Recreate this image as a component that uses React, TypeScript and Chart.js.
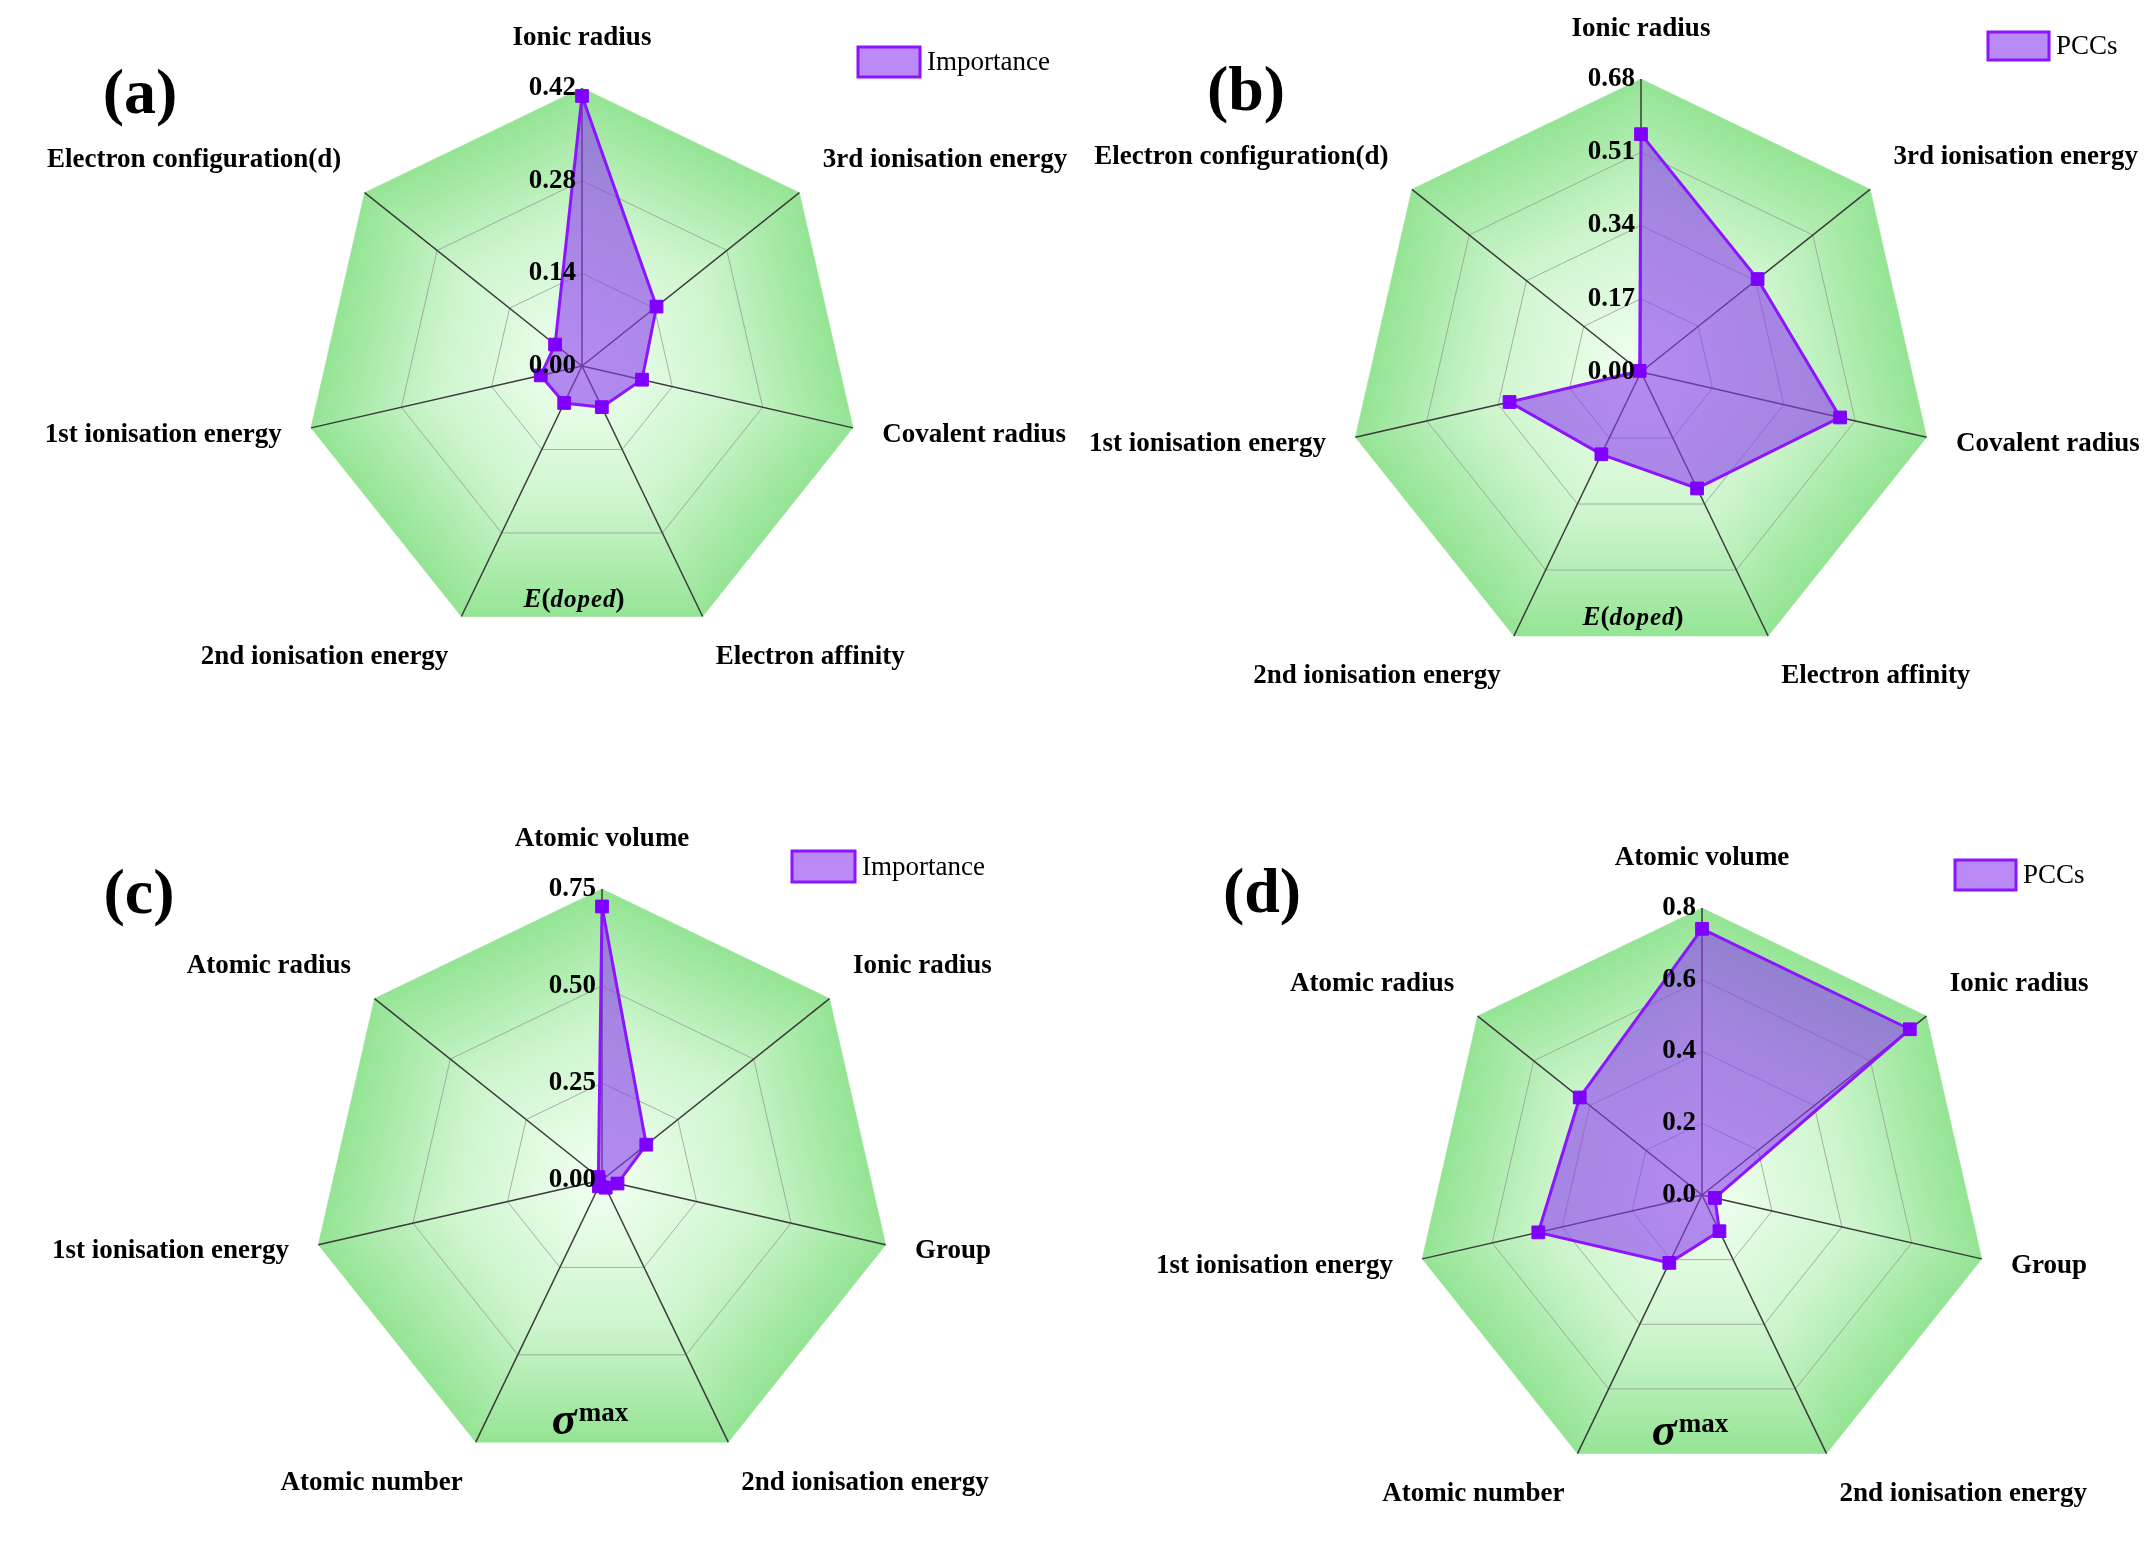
import React, { useEffect, useRef } from 'react';
import { Chart, registerables } from 'chart.js';

Chart.register(...registerables);

// ---------- data ----------
const LABELS_AB = [
  'Ionic radius',
  '3rd ionisation energy',
  'Covalent radius',
  'Electron affinity',
  '2nd ionisation energy',
  '1st ionisation energy',
  'Electron configuration(d)',
];
const LABELS_CD = [
  'Atomic volume',
  'Ionic radius',
  'Group',
  '2nd ionisation energy',
  'Atomic number',
  '1st ionisation energy',
  'Atomic radius',
];

const IMPORTANCE_A = [0.408, 0.144, 0.093, 0.069, 0.062, 0.064, 0.052];
const PCC_B = [0.552, 0.346, 0.474, 0.3, 0.212, 0.313, 0.004];
const IMPORTANCE_C = [0.705, 0.146, 0.041, 0.022, 0.018, 0.008, 0.012];
const PCC_D = [0.742, 0.741, 0.037, 0.112, 0.21, 0.468, 0.436];

const TICKS_A = ['0.00', '0.14', '0.28', '0.42'];
const TICKS_B = ['0.00', '0.17', '0.34', '0.51', '0.68'];
const TICKS_C = ['0.00', '0.25', '0.50', '0.75'];
const TICKS_D = ['0.0', '0.2', '0.4', '0.6', '0.8'];

// ---------- styles ----------
const SERIF = "'Liberation Serif', 'Times New Roman', serif";
const FILL = 'rgba(140, 60, 240, 0.6)';
const BORDER = 'rgb(140, 20, 255)';
const MARKER = 'rgb(128, 0, 255)';
const GREEN_IN = 'rgb(242, 255, 242)';
const GREEN_MID = 'rgb(205, 245, 205)';
const GREEN_OUT = 'rgb(148, 228, 148)';

type PanelCfg = {
  letter: string;
  labels: string[];
  values: number[];
  ticks: string[];
  series: string;
  center: 'E' | 'sigma';
  left: number;
  top: number;
  w: number;
  h: number;
  cx: number;
  cy: number;
  r: number;
  letterPos: [number, number];
  legendBox: [number, number, number, number];
};

const PANELS: PanelCfg[] = [
  {
    letter: '(a)', labels: LABELS_AB, values: IMPORTANCE_A, ticks: TICKS_A, series: 'Importance', center: 'E',
    left: 0, top: 0, w: 1078, h: 770, cx: 582, cy: 366, r: 278,
    letterPos: [140, 96], legendBox: [858, 47, 62, 30],
  },
  {
    letter: '(b)', labels: LABELS_AB, values: PCC_B, ticks: TICKS_B, series: 'PCCs', center: 'E',
    left: 1078, top: 0, w: 1078, h: 770, cx: 563, cy: 372, r: 293,
    letterPos: [168, 93], legendBox: [910, 32, 61, 28],
  },
  {
    letter: '(c)', labels: LABELS_CD, values: IMPORTANCE_C, ticks: TICKS_C, series: 'Importance', center: 'sigma',
    left: 0, top: 770, w: 1078, h: 771, cx: 602, cy: 410, r: 291,
    letterPos: [139, 126], legendBox: [792, 81, 63, 31],
  },
  {
    letter: '(d)', labels: LABELS_CD, values: PCC_D, ticks: TICKS_D, series: 'PCCs', center: 'sigma',
    left: 1078, top: 770, w: 1078, h: 771, cx: 624, cy: 425, r: 287,
    letterPos: [184, 125], legendBox: [877, 90, 61, 30],
  },
];

function makeDecor(cfg: PanelCfg) {
  return {
    id: 'radarDecor' + cfg.letter,
    beforeDraw(chart: any) {
      const scale = chart.scales.r;
      const ctx: CanvasRenderingContext2D = chart.ctx;
      const n = chart.data.labels.length;
      const R = scale.drawingArea;
      const cx = scale.xCenter;
      const cy = scale.yCenter;
      ctx.save();
      ctx.fillStyle = '#ffffff';
      ctx.fillRect(0, 0, chart.width, chart.height);
      for (let i = 0; i < n; i++) {
        const a = scale.getPointPosition(i, R);
        const b = scale.getPointPosition((i + 1) % n, R);
        const m = { x: (a.x + b.x) / 2, y: (a.y + b.y) / 2 };
        const g = ctx.createLinearGradient(cx, cy, m.x, m.y);
        g.addColorStop(0, GREEN_IN);
        g.addColorStop(0.55, GREEN_MID);
        g.addColorStop(1, GREEN_OUT);
        ctx.beginPath();
        ctx.moveTo(cx, cy);
        ctx.lineTo(a.x, a.y);
        ctx.lineTo(b.x, b.y);
        ctx.closePath();
        ctx.fillStyle = g;
        ctx.fill();
        ctx.strokeStyle = g;
        ctx.lineWidth = 0.6;
        ctx.stroke();
      }
      ctx.restore();
    },
    afterDraw(chart: any) {
      const scale = chart.scales.r;
      const ctx: CanvasRenderingContext2D = chart.ctx;
      const labels: string[] = chart.data.labels;
      const n = labels.length;
      const R = scale.drawingArea;
      const cx = scale.xCenter;
      const cy = scale.yCenter;
      ctx.save();
      ctx.fillStyle = '#000';

      // tick labels
      ctx.font = `bold 27px ${SERIF}`;
      ctx.textAlign = 'right';
      ctx.textBaseline = 'middle';
      scale.ticks.forEach((t: any, i: number) => {
        const d = scale.getDistanceFromCenterForValue(t.value);
        ctx.fillText(cfg.ticks[i] ?? String(t.value), cx - 6, cy - d);
      });

      // point labels
      ctx.font = `bold 27px ${SERIF}`;
      labels.forEach((lab, i) => {
        const ang = (360 / n) * i;
        const pad = i === 0 ? 36 : 30;
        const p = scale.getPointPosition(i, R + pad);
        let align: CanvasTextAlign = 'center';
        let base: CanvasTextBaseline = 'bottom';
        if (ang !== 0) {
          align = ang < 180 ? 'left' : 'right';
          const a = ang < 180 ? ang : 360 - ang;
          base = a < 80 ? 'bottom' : a < 130 ? 'middle' : 'top';
        }
        ctx.textAlign = align;
        ctx.textBaseline = base;
        ctx.fillText(lab, p.x, p.y);
      });

      // centre label in bottom sector
      const ly = cy + R * 0.83;
      ctx.textAlign = 'left';
      ctx.textBaseline = 'alphabetic';
      if (cfg.center === 'E') {
        const parts: [string, string][] = [
          ['E', `bold italic 27px ${SERIF}`],
          ['(', `bold 27px ${SERIF}`],
          ['doped', `bold italic 25px ${SERIF}`],
          [')', `bold 27px ${SERIF}`],
        ];
        let total = 0;
        const ws = parts.map(([t, f]) => {
          ctx.font = f;
          const w = ctx.measureText(t).width + (t === 'doped' ? 4 : 0);
          total += w;
          return w;
        });
        let x = cx - 8 - total / 2;
        parts.forEach(([t, f], k) => {
          ctx.font = f;
          if (t === 'doped') {
            (ctx as any).letterSpacing = '1px';
          }
          ctx.fillText(t, x, ly + 10);
          (ctx as any).letterSpacing = '0px';
          x += ws[k];
        });
      } else {
        ctx.font = `bold italic 46px ${SERIF}`;
        const ws = ctx.measureText('σ').width;
        ctx.font = `bold 27px ${SERIF}`;
        const wm = ctx.measureText('max').width;
        const total = ws + 2 + wm;
        const x0 = cx - 12 - total / 2;
        ctx.font = `bold italic 46px ${SERIF}`;
        ctx.fillText('σ', x0, ly + 12);
        ctx.font = `bold 27px ${SERIF}`;
        ctx.fillText('max', x0 + ws + 2, ly - 1);
      }

      // legend
      const [bx, by, bw, bh] = cfg.legendBox;
      ctx.fillStyle = FILL;
      ctx.fillRect(bx, by, bw, bh);
      ctx.strokeStyle = BORDER;
      ctx.lineWidth = 3;
      ctx.strokeRect(bx, by, bw, bh);
      ctx.fillStyle = '#000';
      ctx.font = `27px ${SERIF}`;
      ctx.textAlign = 'left';
      ctx.textBaseline = 'middle';
      ctx.fillText(chart.data.datasets[0].label, bx + bw + 7, by + bh / 2 + 1);

      // panel letter
      ctx.font = `bold 64px ${SERIF}`;
      ctx.textAlign = 'center';
      ctx.textBaseline = 'middle';
      ctx.fillText(cfg.letter, cfg.letterPos[0], cfg.letterPos[1]);

      ctx.restore();
    },
  };
}

function RadarPanel({ cfg }: { cfg: PanelCfg }) {
  const ref = useRef<HTMLCanvasElement>(null);
  useEffect(() => {
    const canvas = ref.current;
    if (!canvas) return;
    const max = Number(cfg.ticks[cfg.ticks.length - 1]);
    const step = Number(cfg.ticks[1]);
    const nTicks = cfg.ticks.length;
    const chart = new Chart(canvas, {
      type: 'radar',
      data: {
        labels: cfg.labels,
        datasets: [
          {
            label: cfg.series,
            data: cfg.values,
            fill: true,
            backgroundColor: FILL,
            borderColor: BORDER,
            borderWidth: 3,
            pointStyle: 'rect',
            pointRadius: 9,
            pointBackgroundColor: MARKER,
            pointBorderColor: MARKER,
            pointBorderWidth: 1,
            tension: 0,
          },
        ],
      },
      options: {
        responsive: false,
        animation: false,
        devicePixelRatio: 1,
        layout: {
          padding: {
            left: cfg.cx - cfg.r,
            top: cfg.cy - cfg.r,
            right: cfg.w - (cfg.cx + cfg.r),
            bottom: cfg.h - (cfg.cy + cfg.r),
          },
        },
        plugins: {
          legend: { display: false },
          tooltip: { enabled: false },
        },
        scales: {
          r: {
            min: 0,
            max,
            beginAtZero: true,
            ticks: { display: false, stepSize: step },
            pointLabels: { display: false },
            grid: {
              circular: false,
              lineWidth: 1,
              color: (c: any) => (c.index === nTicks - 1 ? 'rgba(0,0,0,0)' : 'rgba(150,150,150,0.75)'),
            },
            angleLines: { display: true, color: '#3a3a3a', lineWidth: 1.5 },
          },
        },
      } as any,
      plugins: [makeDecor(cfg)],
    });
    return () => chart.destroy();
  }, [cfg]);
  return (
    <canvas
      ref={ref}
      width={cfg.w}
      height={cfg.h}
      style={{ position: 'absolute', left: cfg.left, top: cfg.top, width: cfg.w, height: cfg.h }}
    />
  );
}

export default function App() {
  return (
    <div style={{ position: 'absolute', left: 0, top: 0, width: 2156, height: 1541, background: '#fff', overflow: 'hidden' }}>
      {PANELS.map((p) => (
        <RadarPanel key={p.letter} cfg={p} />
      ))}
    </div>
  );
}
